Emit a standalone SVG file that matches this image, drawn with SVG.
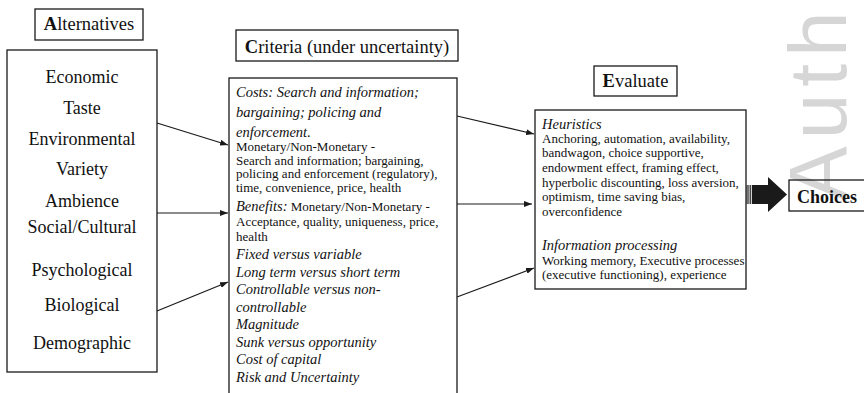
<svg xmlns="http://www.w3.org/2000/svg" width="864" height="393" viewBox="0 0 864 393">
<style>
.bx{fill:none;stroke:#1a1a1a;stroke-width:1.3}
.t{font-family:"Liberation Serif","Times New Roman",serif;fill:#111}
.alt{font-size:18px;text-anchor:middle}
.ttl{font-size:18.5px}
.it{font-size:14.5px;font-style:italic}
.sm{font-size:13px}
.ln{stroke:#1a1a1a;stroke-width:1.2;fill:none}
.wm{font-family:"Liberation Sans",Arial,sans-serif;fill:#d6d6d6}
</style>
<defs>
<marker id="ah" markerWidth="8" markerHeight="6" refX="8" refY="3" orient="auto" markerUnits="userSpaceOnUse">
<path d="M0,0 L8,3 L0,6 z" fill="#1a1a1a"/>
</marker>
</defs>
<rect width="864" height="393" fill="#fff"/>
<g id="watermark">
<text class="wm" font-size="82" letter-spacing="7" transform="translate(846,201) rotate(-90)">Auth</text>
</g>
<g id="alternatives-title">
<rect class="bx" x="35" y="9" width="108" height="31"/>
<text class="t ttl" x="89" y="30" text-anchor="middle"><tspan font-weight="bold">A</tspan>lternatives</text>
</g>
<g id="alternatives">
<rect class="bx" x="7" y="50" width="150" height="322"/>
<text class="t alt" x="82" y="83">Economic</text>
<text class="t alt" x="82" y="114">Taste</text>
<text class="t alt" x="82" y="145">Environmental</text>
<text class="t alt" x="82" y="175">Variety</text>
<text class="t alt" x="82" y="207">Ambience</text>
<text class="t alt" x="82" y="233">Social/Cultural</text>
<text class="t alt" x="82" y="276">Psychological</text>
<text class="t alt" x="82" y="311">Biological</text>
<text class="t alt" x="82" y="349">Demographic</text>
</g>
<g id="criteria-title">
<rect class="bx" x="236" y="30" width="222" height="31"/>
<text class="t ttl" x="347" y="53" text-anchor="middle"><tspan font-weight="bold">C</tspan>riteria (under uncertainty)</text>
</g>
<g id="criteria">
<rect class="bx" x="229" y="78" width="228" height="330"/>
<text class="t it" x="236" y="97">Costs: Search and information;</text>
<text class="t it" x="236" y="117">bargaining; policing and</text>
<text class="t it" x="236" y="137">enforcement.</text>
<text class="t sm" x="236" y="151">Monetary/Non-Monetary -</text>
<text class="t sm" x="236" y="164.5">Search and information; bargaining,</text>
<text class="t sm" x="236" y="178">policing and enforcement (regulatory),</text>
<text class="t sm" x="236" y="191.5">time, convenience, price, health</text>
<text class="t sm" x="236" y="211"><tspan font-size="14.5" font-style="italic">Benefits:</tspan> Monetary/Non-Monetary -</text>
<text class="t sm" x="236" y="226">Acceptance, quality, uniqueness, price,</text>
<text class="t sm" x="236" y="241">health</text>
<text class="t it" x="236" y="259">Fixed versus variable</text>
<text class="t it" x="236" y="276.5">Long term versus short term</text>
<text class="t it" x="236" y="294">Controllable versus non-</text>
<text class="t it" x="236" y="311.5">controllable</text>
<text class="t it" x="236" y="329">Magnitude</text>
<text class="t it" x="236" y="346.5">Sunk versus opportunity</text>
<text class="t it" x="236" y="364">Cost of capital</text>
<text class="t it" x="236" y="381.5">Risk and Uncertainty</text>
</g>
<g id="evaluate-title">
<rect class="bx" x="594" y="66" width="83" height="30"/>
<text class="t ttl" x="635.5" y="86.5" text-anchor="middle"><tspan font-weight="bold">E</tspan>valuate</text>
</g>
<g id="evaluate">
<rect class="bx" x="535" y="110" width="211" height="179"/>
<text class="t it" x="542" y="128.5">Heuristics</text>
<text class="t sm" x="542" y="142.5">Anchoring, automation, availability,</text>
<text class="t sm" x="542" y="157">bandwagon, choice supportive,</text>
<text class="t sm" x="542" y="171.5">endowment effect, framing effect,</text>
<text class="t sm" x="542" y="186.5">hyperbolic discounting, loss aversion,</text>
<text class="t sm" x="542" y="201">optimism, time saving bias,</text>
<text class="t sm" x="542" y="216">overconfidence</text>
<text class="t it" x="542" y="250">Information processing</text>
<text class="t sm" x="542" y="264.5">Working memory, Executive processes</text>
<text class="t sm" x="542" y="278.5">(executive functioning), experience</text>
</g>
<g id="choices">
<rect class="bx" x="789" y="180" width="80" height="31" fill="#fff"/>
<text class="t" x="797" y="203" font-size="18" font-weight="bold">Choices</text>
</g>
<g id="connectors">
<line class="ln" x1="157" y1="123" x2="228" y2="145" marker-end="url(#ah)"/>
<line class="ln" x1="157" y1="213" x2="228" y2="213" marker-end="url(#ah)"/>
<line class="ln" x1="157" y1="311" x2="228" y2="282" marker-end="url(#ah)"/>
<line class="ln" x1="457" y1="116" x2="534" y2="134" marker-end="url(#ah)"/>
<line class="ln" x1="457" y1="204" x2="532" y2="204" marker-end="url(#ah)"/>
<line class="ln" x1="457" y1="297" x2="534" y2="268" marker-end="url(#ah)"/>
<g id="big-arrow" fill="#1a1a1a">
<rect x="746.6" y="185" width="1" height="19"/>
<rect x="748.4" y="185" width="1" height="19"/>
<rect x="750.2" y="185" width="1" height="19"/>
<path d="M752,185 L768,185 L768,177 L787,194.5 L768,212 L768,204 L752,204 z"/>
</g>
</g>
</svg>
